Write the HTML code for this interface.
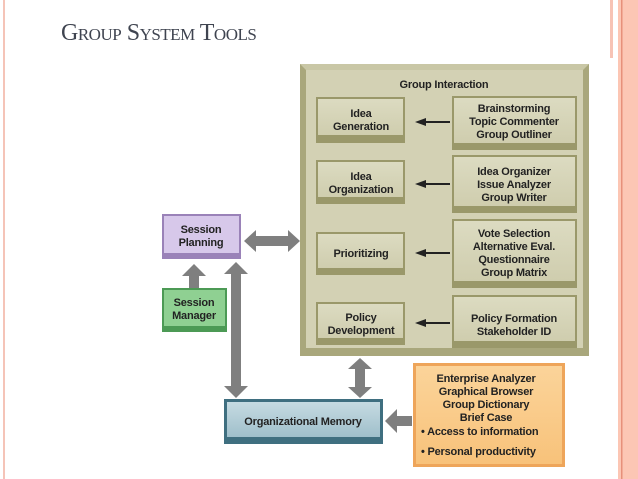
<!DOCTYPE html>
<html><head><meta charset="utf-8"><style>
html,body{margin:0;padding:0;background:#fff;}
svg{display:block}
text{font-family:"Liberation Sans",sans-serif;font-weight:bold;letter-spacing:-0.2px}
</style></head><body>
<svg width="638" height="479" viewBox="0 0 638 479" xmlns="http://www.w3.org/2000/svg">
<defs>
<linearGradient id="ol" x1="0" y1="0" x2="0" y2="1"><stop offset="0" stop-color="#dcdbc1"/><stop offset="1" stop-color="#cfcdae"/></linearGradient>
<linearGradient id="tl" x1="0" y1="0" x2="0" y2="1"><stop offset="0" stop-color="#c6dbe2"/><stop offset="1" stop-color="#9fbfcb"/></linearGradient>
<linearGradient id="or" x1="0" y1="0" x2="0" y2="1"><stop offset="0" stop-color="#fbd49a"/><stop offset="1" stop-color="#f8c27a"/></linearGradient>
</defs>
<rect x="3" y="0" width="2" height="479" fill="#f5c4b8"/>
<rect x="610" y="0" width="3" height="58" fill="#f7c3b5"/>
<rect x="618" y="0" width="20" height="479" fill="#fcc6b4"/>
<rect x="621" y="0" width="1.5" height="479" fill="#e7907a"/>
<text x="61" y="40" style="font-family:'Liberation Serif',serif;font-weight:normal;letter-spacing:-0.5px" font-size="24" fill="#3f4450">G<tspan font-size="17">ROUP</tspan> S<tspan font-size="17">YSTEM</tspan> T<tspan font-size="17">OOLS</tspan></text>

<rect x="300" y="64" width="289" height="292" fill="#a9a77c"/>
<polygon points="300,64 589,64 583,70 306,70" fill="#c9c7a6"/>
<rect x="306" y="70" width="277" height="278" fill="#d3d1b4"/>
<text x="444" y="88" font-size="11" fill="#222" text-anchor="middle">Group Interaction</text>

<g font-size="11" fill="#222" text-anchor="middle">
<rect x="316" y="97" width="89" height="46" fill="#9a986a"/><rect x="318" y="99" width="85" height="36" fill="url(#ol)"/>
<text x="361" y="117">Idea</text><text x="361" y="130">Generation</text>
<rect x="316" y="160" width="89" height="44" fill="#9a986a"/><rect x="318" y="162" width="85" height="35" fill="url(#ol)"/>
<text x="361" y="180">Idea</text><text x="361" y="193">Organization</text>
<rect x="316" y="232" width="89" height="43" fill="#9a986a"/><rect x="318" y="234" width="85" height="34" fill="url(#ol)"/>
<text x="361" y="257">Prioritizing</text>
<rect x="316" y="302" width="89" height="43" fill="#9a986a"/><rect x="318" y="304" width="85" height="34" fill="url(#ol)"/>
<text x="361" y="321">Policy</text><text x="361" y="334">Development</text>
<rect x="452" y="96" width="125" height="54" fill="#9a986a"/><rect x="454" y="98" width="121" height="45" fill="url(#ol)"/>
<text x="514" y="112">Brainstorming</text><text x="514" y="125">Topic Commenter</text><text x="514" y="138">Group Outliner</text>
<rect x="452" y="155" width="125" height="58" fill="#9a986a"/><rect x="454" y="157" width="121" height="49" fill="url(#ol)"/>
<text x="514" y="175">Idea Organizer</text><text x="514" y="188">Issue Analyzer</text><text x="514" y="201">Group Writer</text>
<rect x="452" y="219" width="125" height="69" fill="#9a986a"/><rect x="454" y="221" width="121" height="60" fill="url(#ol)"/>
<text x="514" y="237">Vote Selection</text><text x="514" y="250">Alternative Eval.</text><text x="514" y="263">Questionnaire</text><text x="514" y="276">Group Matrix</text>
<rect x="452" y="295" width="125" height="53" fill="#9a986a"/><rect x="454" y="297" width="121" height="44" fill="url(#ol)"/>
<text x="514" y="322">Policy Formation</text><text x="514" y="335">Stakeholder ID</text>
</g>
<g stroke="#222" stroke-width="2" fill="#222">
<line x1="450" y1="122" x2="424" y2="122"/><polygon points="415,122 426,118 426,126" stroke="none"/>
<line x1="450" y1="184" x2="424" y2="184"/><polygon points="415,184 426,180 426,188" stroke="none"/>
<line x1="450" y1="253" x2="424" y2="253"/><polygon points="415,253 426,249 426,257" stroke="none"/>
<line x1="450" y1="323" x2="424" y2="323"/><polygon points="415,323 426,319 426,327" stroke="none"/>
</g>

<rect x="162" y="214" width="79" height="45" fill="#9a82b8"/><rect x="164" y="216" width="75" height="37" fill="#d7c8ea"/>
<text x="201" y="233" font-size="11" fill="#222" text-anchor="middle">Session</text>
<text x="201" y="246" font-size="11" fill="#222" text-anchor="middle">Planning</text>
<rect x="162" y="288" width="65" height="44" fill="#4c9a55"/><rect x="164" y="290" width="61" height="36" fill="#8fd092"/>
<text x="194" y="306" font-size="11" fill="#222" text-anchor="middle">Session</text>
<text x="194" y="319" font-size="11" fill="#222" text-anchor="middle">Manager</text>
<rect x="224" y="399" width="159" height="45" fill="#3f6f80"/><rect x="227" y="402" width="153" height="35" fill="url(#tl)"/>
<text x="303" y="425" font-size="11" fill="#222" text-anchor="middle">Organizational Memory</text>
<rect x="413" y="363" width="152" height="104" fill="#eea55a"/><rect x="416" y="366" width="146" height="98" fill="url(#or)"/>
<g font-size="11" fill="#222" text-anchor="middle">
<text x="486" y="382">Enterprise Analyzer</text><text x="486" y="395">Graphical Browser</text><text x="486" y="408">Group Dictionary</text><text x="486" y="421">Brief Case</text>
</g>
<text x="421" y="435" font-size="11" fill="#222">• Access to information</text>
<text x="421" y="455" font-size="11" fill="#222">• Personal productivity</text>

<g fill="#7f7f7f">
<polygon points="244,241 256,230 256,236 288,236 288,230 300,241 288,252 288,246 256,246 256,252"/>
<polygon points="194,264 206,276 199,276 199,288 189,288 189,276 182,276"/>
<polygon points="236,262 248,274 241,274 241,386 248,386 236,398 224,386 231,386 231,274 224,274"/>
<polygon points="360,358 372,369 365,369 365,387 372,387 360,398 348,387 355,387 355,369 348,369"/>
<polygon points="385,421 397,409 397,416 412,416 412,426 397,426 397,433"/>
</g>
</svg>
</body></html>
